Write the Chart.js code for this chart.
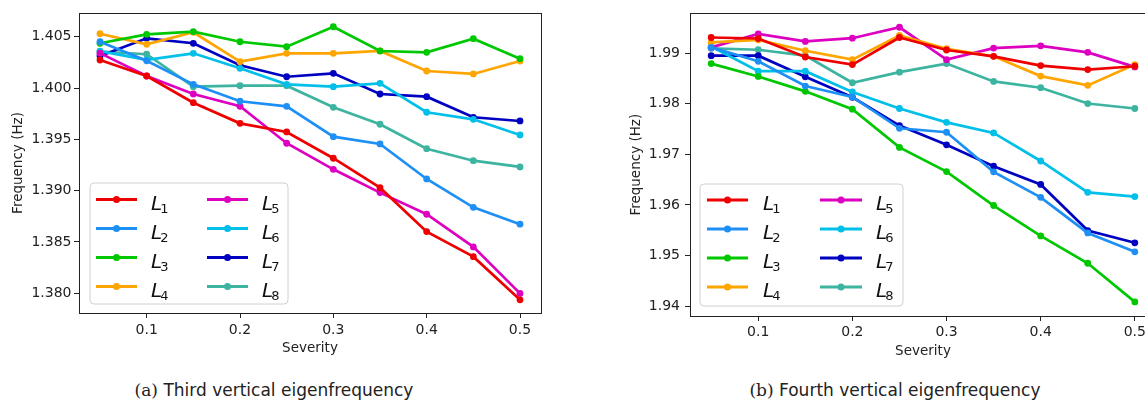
<!DOCTYPE html>
<html><head><meta charset="utf-8">
<script src="https://cdn.jsdelivr.net/npm/chart.js@4.4.0/dist/chart.umd.min.js"></script>
<style>
html,body{margin:0;padding:0;background:#fff;width:1145px;height:403px;overflow:hidden;position:relative}
canvas{position:absolute;top:0}
#ca{left:0}
#cb{left:600px}
.cap{position:absolute;top:380px;font-family:"DejaVu Sans";font-size:17px;line-height:20px;white-space:nowrap;text-align:center;color:#222}
.cap .lab{font-family:"DejaVu Serif"}
</style></head>
<body>
<canvas id="ca" width="560" height="360" style="width:560px;height:360px"></canvas>
<canvas id="cb" width="560" height="360" style="width:560px;height:360px"></canvas>
<div class="cap" style="left:74px;width:400px"><span class="lab">(a)</span> Third vertical eigenfrequency</div>
<div class="cap" style="left:695px;width:400px"><span class="lab">(b)</span> Fourth vertical eigenfrequency</div>
<script>
// ---- data ----
const severity = [0.05, 0.10, 0.15, 0.20, 0.25, 0.30, 0.35, 0.40, 0.45, 0.50];
const seriesNames = ['L_1', 'L_2', 'L_3', 'L_4', 'L_5', 'L_6', 'L_7', 'L_8'];
const seriesColors = ['#ee0000', '#1e90f5', '#00c800', '#ffa500', '#dd00c0', '#00bfe8', '#0000c0', '#3cb4a0'];
const xTicks = [0.1, 0.2, 0.3, 0.4, 0.5];
const yTicksThird = [1.380, 1.385, 1.390, 1.395, 1.400, 1.405];
const yTicksFourth = [1.94, 1.95, 1.96, 1.97, 1.98, 1.99];

const third_L1 = [1.40273, 1.40117, 1.39857, 1.39656, 1.39572, 1.39316, 1.39029, 1.38601, 1.38357, 1.37936];
const third_L2 = [1.40451, 1.40265, 1.40036, 1.39871, 1.39822, 1.39526, 1.39455, 1.39114, 1.38838, 1.38673];
const third_L3 = [1.40436, 1.40523, 1.40549, 1.40451, 1.40403, 1.40597, 1.40361, 1.40348, 1.40481, 1.40286];
const third_L4 = [1.40529, 1.40426, 1.40543, 1.40257, 1.40338, 1.40338, 1.40361, 1.40166, 1.40137, 1.40263];
const third_L5 = [1.40340, 1.40117, 1.39942, 1.39822, 1.39462, 1.39208, 1.38981, 1.38770, 1.38452, 1.37999];
const third_L6 = [1.40360, 1.40275, 1.40338, 1.40192, 1.40036, 1.40013, 1.40046, 1.39764, 1.39695, 1.39543];
const third_L7 = [1.40312, 1.40484, 1.40436, 1.40221, 1.40110, 1.40143, 1.39942, 1.39916, 1.39715, 1.39679];
const third_L8 = [1.40354, 1.40329, 1.40013, 1.40023, 1.40023, 1.39812, 1.39647, 1.39409, 1.39292, 1.39231];

const fourth_L1 = [1.99307, 1.99287, 1.98922, 1.98772, 1.99307, 1.99060, 1.98935, 1.98752, 1.98674, 1.98739];
const fourth_L2 = [1.99111, 1.98837, 1.98348, 1.98133, 1.97513, 1.97435, 1.96652, 1.96149, 1.95445, 1.95073];
const fourth_L3 = [1.98791, 1.98537, 1.98243, 1.97891, 1.97135, 1.96658, 1.95987, 1.95386, 1.94846, 1.94083];
const fourth_L4 = [1.99209, 1.99261, 1.99045, 1.98869, 1.99346, 1.99085, 1.98935, 1.98544, 1.98361, 1.98772];
const fourth_L5 = [1.99111, 1.99378, 1.99229, 1.99293, 1.99509, 1.98869, 1.99098, 1.99143, 1.99013, 1.98726];
const fourth_L6 = [1.99130, 1.98641, 1.98641, 1.98231, 1.97904, 1.97630, 1.97421, 1.96867, 1.96247, 1.96163];
const fourth_L7 = [1.98948, 1.98948, 1.98530, 1.98125, 1.97566, 1.97187, 1.96764, 1.96404, 1.95492, 1.95250];
const fourth_L8 = [1.99092, 1.99065, 1.98948, 1.98413, 1.98622, 1.98791, 1.98439, 1.98315, 1.98002, 1.97904];

const thirdSeries = [third_L1, third_L2, third_L3, third_L4, third_L5, third_L6, third_L7, third_L8];
const fourthSeries = [fourth_L1, fourth_L2, fourth_L3, fourth_L4, fourth_L5, fourth_L6, fourth_L7, fourth_L8];

// ---- plugins ----
const framePlugin = {
  id: 'frame',
  afterDatasetsDraw(chart) {
    const {ctx, chartArea: a} = chart;
    ctx.save();
    ctx.strokeStyle = '#222';
    ctx.lineWidth = 1;
    ctx.strokeRect(Math.round(a.left) + 0.5, Math.round(a.top) + 0.5, Math.round(a.right - a.left), Math.round(a.bottom - a.top));
    ctx.restore();
  }
};

const boxLegend = {
  id: 'boxLegend',
  afterDraw(chart, args, o) {
    if (!o || !o.box) return;
    const ctx = chart.ctx;
    const b = o.box;
    ctx.save();
    ctx.beginPath();
    const r = 4;
    ctx.moveTo(b.x + r, b.y);
    ctx.arcTo(b.x + b.w, b.y, b.x + b.w, b.y + b.h, r);
    ctx.arcTo(b.x + b.w, b.y + b.h, b.x, b.y + b.h, r);
    ctx.arcTo(b.x, b.y + b.h, b.x, b.y, r);
    ctx.arcTo(b.x, b.y, b.x + b.w, b.y, r);
    ctx.closePath();
    ctx.fillStyle = 'rgba(255,255,255,0.85)';
    ctx.fill();
    ctx.strokeStyle = '#d0d0d0';
    ctx.lineWidth = 1;
    ctx.stroke();
    chart.data.datasets.forEach((ds, i) => {
      const col = o.cols[Math.floor(i / 4)];
      const y = b.y + o.row0 + (i % 4) * o.dy;
      ctx.strokeStyle = ds.borderColor;
      ctx.lineWidth = 3;
      ctx.beginPath();
      ctx.moveTo(b.x + col.l0, y);
      ctx.lineTo(b.x + col.l1, y);
      ctx.stroke();
      ctx.fillStyle = ds.borderColor;
      ctx.beginPath();
      ctx.arc(b.x + (col.l0 + col.l1) / 2, y, 3.5, 0, Math.PI * 2);
      ctx.fill();
      const parts = ds.label.split('_');
      ctx.fillStyle = '#111';
      ctx.textBaseline = 'alphabetic';
      ctx.textAlign = 'left';
      ctx.font = 'italic 20px "DejaVu Sans"';
      const tx = b.x + col.t;
      ctx.fillText(parts[0], tx, y + 10);
      const w = ctx.measureText(parts[0]).width;
      ctx.font = '13px "DejaVu Sans"';
      ctx.fillText(parts[1], tx + w - 2, y + 13);
    });
    ctx.restore();
  }
};

const tickFont = {family: 'DejaVu Sans', size: 14};
const labelFont = {family: 'DejaVu Sans', size: 13.5};

function makeChart(id, series, yTicks, yMin, yMax, dec, lay) {
  const datasets = series.map((arr, i) => ({
    label: seriesNames[i],
    data: severity.map((x, j) => ({x: x, y: arr[j]})),
    borderColor: seriesColors[i],
    backgroundColor: seriesColors[i],
    pointBackgroundColor: seriesColors[i],
    pointBorderWidth: 0,
    pointRadius: 3.4,
    borderWidth: 2.7,
    tension: 0,
    fill: false
  }));
  return new Chart(document.getElementById(id), {
    type: 'line',
    data: {datasets},
    plugins: [framePlugin, boxLegend],
    options: {
      responsive: false,
      devicePixelRatio: 1,
      animation: false,
      events: [],
      layout: {padding: lay.padding},
      plugins: {
        legend: {display: false},
        tooltip: {enabled: false},
        boxLegend: lay.legend
      },
      scales: {
        x: {
          type: 'linear',
          min: 0.0275, max: 0.5225,
          afterBuildTicks: s => { s.ticks = xTicks.map(v => ({value: v})); },
          afterFit: s => { s.height = lay.xH; },
          ticks: {autoSkip: false, maxRotation: 0, padding: lay.xPad, color: '#222', font: tickFont,
                  callback: v => Number(v).toFixed(1)},
          grid: {drawOnChartArea: false, drawTicks: true, tickLength: 5, color: '#222', tickWidth: 1},
          border: {display: true, color: '#222', width: 1},
          title: {display: true, text: 'Severity', color: '#222', font: labelFont,
                  padding: {top: 0, bottom: lay.xTitlePad}}
        },
        y: {
          type: 'linear',
          min: yMin, max: yMax,
          afterBuildTicks: s => { s.ticks = yTicks.map(v => ({value: v})); },
          afterFit: s => { s.width = lay.yW; },
          ticks: {autoSkip: false, padding: lay.yPad, color: '#222', font: tickFont,
                  callback: v => Number(v).toFixed(dec)},
          grid: {drawOnChartArea: false, drawTicks: true, tickLength: 5, color: '#222', tickWidth: 1},
          border: {display: true, color: '#222', width: 1},
          title: {display: true, text: 'Frequency (Hz)', color: '#222', font: labelFont,
                  padding: {top: lay.yTitlePad, bottom: 0}}
        }
      }
    }
  });
}

makeChart('ca', thirdSeries, yTicksThird, 1.37808, 1.40731, 3, {
  padding: {left: 0, top: 13, right: 19, bottom: 0},
  xH: 47, yW: 79, yPad: 2.5, xPad: 4, xTitlePad: 3.9, yTitlePad: 9.9,
  legend: {box: {x: 90, y: 183, w: 198, h: 121}, row0: 16.5, dy: 29,
           cols: [{l0: 6, l1: 47, t: 61}, {l0: 117, l1: 158, t: 172}]}
});

makeChart('cb', fourthSeries, yTicksFourth, 1.93804, 1.99783, 2, {
  padding: {left: 0, top: 10, right: 1, bottom: 0},
  xH: 44, yW: 90, yPad: 5, xPad: 3, xTitlePad: 0.9, yTitlePad: 27.9,
  legend: {box: {x: 100, y: 184, w: 203, h: 122}, row0: 16, dy: 29,
           cols: [{l0: 7, l1: 48, t: 63}, {l0: 120, l1: 162, t: 176}]}
});
</script>
</body></html>
